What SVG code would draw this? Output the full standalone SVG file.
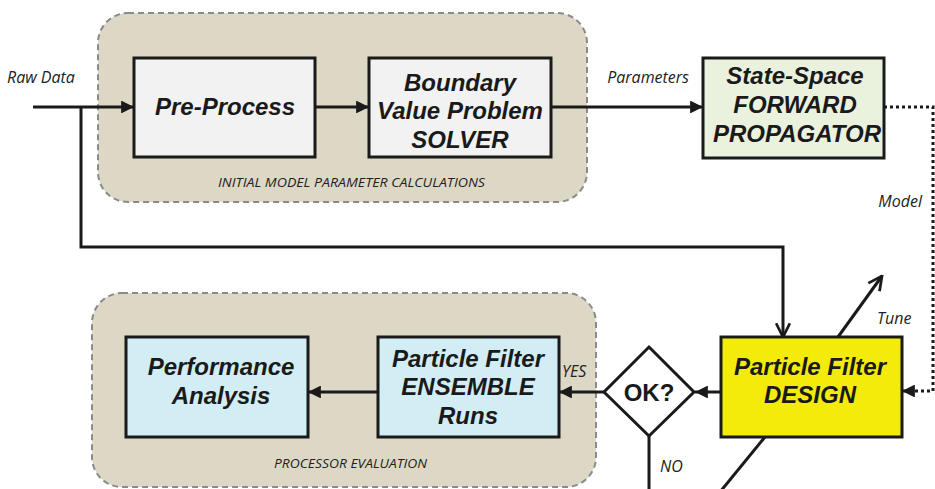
<svg xmlns="http://www.w3.org/2000/svg" width="935" height="489" viewBox="0 0 935 489">
  <defs>
    <marker id="head" viewBox="0 0 10 10" refX="10" refY="5" markerWidth="4.3" markerHeight="4.3" orient="auto" markerUnits="strokeWidth">
      <path d="M0,0 L10,5 L0,10 Z" fill="#1a1a1a"/>
    </marker>
    <marker id="vee" viewBox="0 0 12 12" refX="11" refY="6" markerWidth="5.5" markerHeight="5.5" orient="auto" markerUnits="strokeWidth">
      <path d="M1,1 L11,6 L1,11" fill="none" stroke="#1a1a1a" stroke-width="2"/>
    </marker>
    <style>
      .group { fill: #ddd8c5; stroke: #8a8a8a; stroke-width: 2; stroke-dasharray: 6 4; }
      .box { stroke: #1a1a1a; stroke-width: 3; }
      .grey { fill: #f2f2f2; }
      .green { fill: #eaf1dd; }
      .blue { fill: #d3edf5; }
      .yellow { fill: #f3ec0a; }
      .title { font-family: "Liberation Sans", Arial, sans-serif; font-weight: bold; font-style: italic; font-size: 24px; fill: #1a1a1a; text-anchor: middle; }
      .label { font-family: "Open Sans", "Liberation Sans", sans-serif; font-style: italic; font-size: 16px; fill: #222; }
      .caption { font-family: "Open Sans", "Liberation Sans", sans-serif; font-style: italic; font-size: 12px; fill: #222; }
      .wire { fill: none; stroke: #1a1a1a; stroke-width: 3; }
      .dotted { fill: none; stroke: #1a1a1a; stroke-width: 3; stroke-dasharray: 3 3; }
    </style>
  </defs>

  <!-- dashed grouping panels -->
  <g id="initial-model-group">
    <rect class="group" x="98" y="13" width="489" height="189" rx="30" ry="30"/>
    <text class="caption" x="218" y="187" textLength="267" lengthAdjust="spacingAndGlyphs">INITIAL MODEL PARAMETER CALCULATIONS</text>
  </g>
  <g id="processor-evaluation-group">
    <rect class="group" x="92" y="293" width="504" height="194" rx="30" ry="30"/>
    <text class="caption" x="274" y="468" textLength="153" lengthAdjust="spacingAndGlyphs">PROCESSOR EVALUATION</text>
  </g>

  <!-- connectors -->
  <g id="connectors">
    <path class="wire" d="M33,107 H134" marker-end="url(#head)"/>
    <path class="wire" d="M81,107 V247 H783 V337" marker-end="url(#vee)"/>
    <path class="wire" d="M315,107 H369" marker-end="url(#head)"/>
    <path class="wire" d="M551,107 H703" marker-end="url(#head)"/>
    <path class="dotted" d="M884,107 H933 V391 H902" marker-end="url(#head)"/>
    <path class="wire" d="M838,337 L882,276" marker-end="url(#vee)"/>
    <path class="wire" d="M721,392 H695" marker-end="url(#head)"/>
    <path class="wire" d="M604,392 H559" marker-end="url(#head)"/>
    <path class="wire" d="M378,392 H308" marker-end="url(#head)"/>
    <path class="wire" d="M649,436 V489"/>
    <path class="wire" d="M765,437 L720,492"/>
    <text class="label" x="7" y="83">Raw Data</text>
    <text class="label" x="689" y="83" text-anchor="end">Parameters</text>
    <text class="label" x="922" y="207" text-anchor="end">Model</text>
    <text class="label" x="877" y="324">Tune</text>
    <text class="label" x="562" y="377" font-size="14">YES</text>
    <text class="label" x="660" y="472" font-size="15">NO</text>
  </g>

  <!-- process blocks -->
  <g id="pre-process">
    <rect class="box grey" x="134" y="58" width="181" height="99"/>
    <text class="title" x="225" y="115">Pre-Process</text>
  </g>
  <g id="bvp-solver">
    <rect class="box grey" x="369" y="58" width="182" height="99"/>
    <text class="title" x="460" y="91">Boundary</text>
    <text class="title" x="460" y="119">Value Problem</text>
    <text class="title" x="460" y="148">SOLVER</text>
  </g>
  <g id="forward-propagator">
    <rect class="box green" x="703" y="58" width="181" height="100"/>
    <text class="title" x="795" y="84">State-Space</text>
    <text class="title" x="795" y="113">FORWARD</text>
    <text class="title" x="797" y="142">PROPAGATOR</text>
  </g>
  <g id="pf-design">
    <rect class="box yellow" x="721" y="337" width="181" height="100"/>
    <text class="title" x="810" y="375">Particle Filter</text>
    <text class="title" x="810" y="403">DESIGN</text>
  </g>
  <g id="ok-decision">
    <polygon points="649,347 694,392 649,436 604,392" fill="#ffffff" stroke="#1a1a1a" stroke-width="3"/>
    <text x="649" y="401" text-anchor="middle" font-family="Liberation Sans, Arial, sans-serif" font-weight="bold" font-size="24" fill="#1a1a1a">OK?</text>
  </g>
  <g id="pf-ensemble">
    <rect class="box blue" x="378" y="337" width="181" height="100"/>
    <text class="title" x="468" y="367">Particle Filter</text>
    <text class="title" x="468" y="395">ENSEMBLE</text>
    <text class="title" x="468" y="424">Runs</text>
  </g>
  <g id="performance-analysis">
    <rect class="box blue" x="126" y="337" width="182" height="100"/>
    <text class="title" x="221" y="375">Performance</text>
    <text class="title" x="221" y="404">Analysis</text>
  </g>
</svg>
